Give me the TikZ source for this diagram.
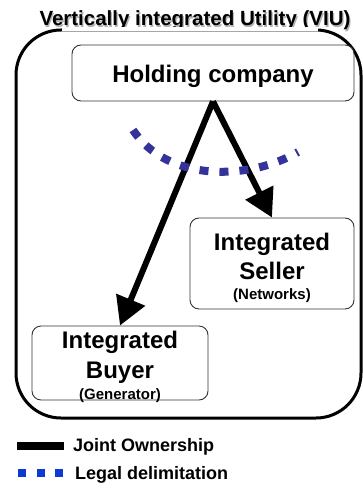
\documentclass[tikz,border=0pt]{standalone}
\usepackage{fontspec}
\setmainfont{Liberation Sans}
\usetikzlibrary{arrows.meta}
\definecolor{legalblue}{HTML}{333399}
\definecolor{keyblue}{HTML}{0A3CD2}
\tikzset{
  unitbox/.style={draw=black!80, line width=0.9pt, rounded corners=9pt, fill=white},
  bigtxt/.style={font=\fontsize{24}{24}\selectfont\bfseries, anchor=base, inner sep=0pt},
  smalltxt/.style={font=\fontsize{15}{15}\selectfont\bfseries, anchor=base, inner sep=0pt},
  keytxt/.style={font=\fontsize{18}{18}\selectfont\bfseries, anchor=base west, inner sep=0pt},
  owns/.style={line width=6pt, -{Triangle[length=28pt,width=30pt]}},
  legal/.style={legalblue, line width=8pt, dash pattern=on 9pt off 11pt},
}
\begin{document}
\begin{tikzpicture}[x=1pt, y=-1pt]
\useasboundingbox (0,0) rectangle (362,492);

% outer utility frame
\draw[line width=3pt, rounded corners=45pt] (16,30) rectangle (361,418);

% title with a soft shadow, blanking the top edge of the frame
\node[anchor=base, inner sep=0pt, text=black!30, font=\fontsize{20.5}{20.5}\selectfont\bfseries]
  at (196.2,27.2) {Vertically integrated Utility (VIU)};
\node[anchor=base, inner sep=1pt, fill=white, fill opacity=0, text opacity=1, font=\fontsize{20.5}{20.5}\selectfont\bfseries]
  (title) at (195,26) {Vertically integrated Utility (VIU)};
\fill[white] (62,27.5) rectangle (318,31.6);
\draw[black!35, line width=0.6pt] (62,31) -- (318,31);

% boxes
\node[unitbox, minimum width=282pt, minimum height=56pt, inner sep=0pt] (hold) at (213,73) {};
\node[unitbox, minimum width=164pt, minimum height=91pt, inner sep=0pt] (seller) at (272,263.5) {};
\node[unitbox, minimum width=176pt, minimum height=74pt, inner sep=0pt] (buyer) at (120,363) {};

% labels
\node[bigtxt] (holdtxt) at (213,83) {Holding company};
\node[bigtxt] (sell1) at (272,250) {Integrated};
\node[bigtxt] (sell2) at (272,279) {Seller};
\node[smalltxt] (sell3) at (272,299) {(Networks)};
\node[bigtxt] (buy1) at (120,348) {Integrated};
\node[bigtxt] (buy2) at (120,378) {Buyer};
\node[smalltxt] (buy3) at (120,399) {(Generator)};

% ownership links
\draw[owns] (hold.south) -- (seller.north);
\draw[owns] (hold.south) -- (buyer.north);

% legal delimitation
\coordinate (la) at (133,130);
\coordinate (lb) at (298,152);
\draw[legal] (la) .. controls (168,183) and (250,180) .. (lb);

% key
\coordinate (k1a) at (17,446);
\coordinate (k1b) at (64,446);
\draw[line width=8pt] (k1a) -- (k1b);
\node[keytxt] (k1) at (73,451) {Joint Ownership};
\fill[keyblue] (18,469) rectangle (26,477);
\fill[keyblue] (37,469) rectangle (45,477);
\fill[keyblue] (55,469) rectangle (63,477);
\node[keytxt] (k2) at (75,479) {Legal delimitation};
\end{tikzpicture}
\end{document}
